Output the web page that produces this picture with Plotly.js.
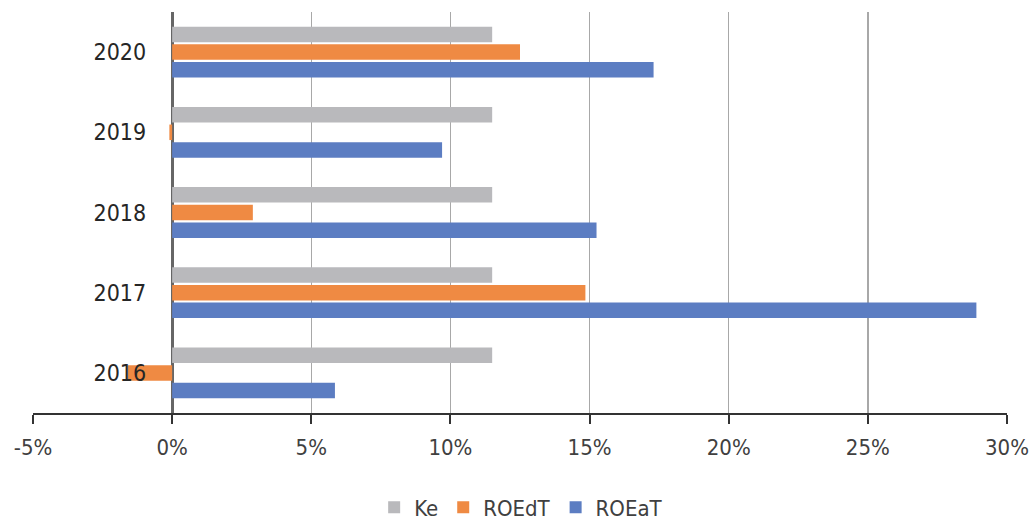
<!DOCTYPE html>
<html>
<head>
<meta charset="utf-8">
<script src="https://cdn.plot.ly/plotly-3.0.1.min.js"></script>
<style>
  html, body { margin: 0; padding: 0; background: #ffffff; }
  #chart { width: 1032px; height: 521px; }
</style>
</head>
<body>
<div id="chart"></div>
<script>
// Years on the category axis (bottom to top)
const years = ['2016', '2017', '2018', '2019', '2020'];

// Cost of equity and returns on equity, in percent
const ke    = [11.5, 11.5, 11.5, 11.5, 11.5];
const roedt = [-1.6, 14.85, 2.9, -0.1, 12.5];
const roeat = [5.85, 28.9, 15.25, 9.7, 17.3];

const xTicks = [-5, 0, 5, 10, 15, 20, 25, 30];
const xTickText = ['-5%', '0%', '5%', '10%', '15%', '20%', '25%', '30%'];

const FONT = '"DejaVu Sans Condensed", "DejaVu Sans", Arial, sans-serif';

function series(name, values, color) {
  return {
    type: 'bar',
    orientation: 'h',
    name: name,
    y: years,
    x: values,
    marker: { color: color, line: { width: 0 } },
    hoverinfo: 'skip'
  };
}

// Plotly stacks grouped horizontal bars upward, so the bottom bar goes first
const data = [
  series('ROEaT', roeat, '#5c7dc2'),
  series('ROEdT', roedt, '#ef8a43'),
  series('Ke', ke, '#b9b9bc')
];

const xMin = -5, xMax = 30;

const layout = {
  width: 1032,
  height: 521,
  margin: { l: 33, r: 25, t: 12, b: 108 },
  paper_bgcolor: '#ffffff',
  plot_bgcolor: '#ffffff',
  barmode: 'group',
  bargap: 0.34,
  bargroupgap: 0.12,
  font: { family: FONT, color: '#404040' },
  showlegend: true,
  legend: {
    orientation: 'h',
    traceorder: 'reversed',
    xref: 'container',
    yref: 'container',
    x: 0.505, xanchor: 'center',
    y: 0.026, yanchor: 'middle',
    font: { size: 22, color: '#404040', family: FONT },
    itemwidth: 30
  },
  xaxis: {
    range: [xMin, xMax],
    automargin: false,
    tickmode: 'array',
    tickvals: xTicks,
    ticktext: xTickText,
    tickfont: { size: 22, color: '#404040', family: FONT },
    showgrid: true,
    gridcolor: '#a8a8a8',
    gridwidth: 1.5,
    zeroline: true,
    zerolinecolor: '#666666',
    zerolinewidth: 3,
    showline: true,
    linecolor: '#333333',
    linewidth: 2,
    ticks: 'outside',
    ticklen: 9,
    tickwidth: 2,
    tickcolor: '#333333',
    ticklabelstandoff: 5,
    fixedrange: true
  },
  yaxis: {
    type: 'category',
    categoryorder: 'array',
    categoryarray: years,
    range: [-0.5, 4.5],
    automargin: false,
    anchor: 'free',
    // the category labels sit beside the 0% line
    position: (0 - xMin) / (xMax - xMin),
    side: 'left',
    showline: false,
    showgrid: false,
    zeroline: false,
    ticks: '',
    ticklabelstandoff: 26,
    tickfont: { size: 23, color: '#262626', family: FONT },
    fixedrange: true
  }
};

Plotly.newPlot('chart', data, layout, { displayModeBar: false, staticPlot: true });
</script>
</body>
</html>
